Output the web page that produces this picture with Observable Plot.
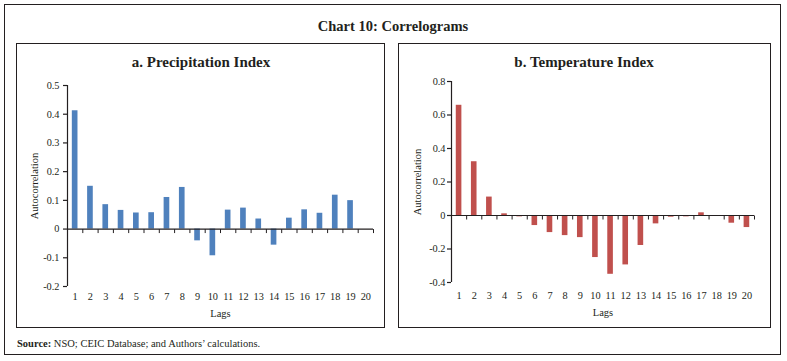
<!DOCTYPE html>
<html>
<head>
<meta charset="utf-8">
<script src="https://cdn.jsdelivr.net/npm/d3@7"></script>
<script src="https://cdn.jsdelivr.net/npm/@observablehq/plot@0.6"></script>
<style>
  body { margin: 0; background: #fff; }
  #root { position: relative; width: 787px; height: 361px; font-family: "Liberation Serif", serif; color: #231f20; overflow: hidden; }
  .box { position: absolute; border: 1.5px solid #231f20; box-sizing: border-box; }
  .t { position: absolute; white-space: nowrap; transform: translate(-50%, -50%); font-weight: bold; line-height: 1; }
  .plot { position: absolute; }
  #src { position: absolute; left: 17px; top: 344px; transform: translateY(-50%); font-size: 10.5px; line-height: 1; white-space: nowrap; }
</style>
</head>
<body>
<div id="root">
  <div class="box" style="left:4px;top:4px;width:777px;height:351px;"></div>
  <div class="t" style="left:393px;top:26px;font-size:14.5px;">Chart 10: Correlograms</div>
  <div class="box" style="left:16px;top:43px;width:369px;height:285px;"></div>
  <div class="box" style="left:397.5px;top:43px;width:373px;height:285px;"></div>
  <div class="t" style="left:201px;top:62px;font-size:15px;">a. Precipitation Index</div>
  <div class="t" style="left:584px;top:62px;font-size:15px;">b. Temperature Index</div>
  <div class="plot" id="pa" style="left:16px;top:68px;"></div>
  <div class="plot" id="pb" style="left:398px;top:68px;"></div>
  <div id="src"><b>Source:</b> NSO; CEIC Database; and Authors’ calculations.</div>
</div>
<script>
const lags = [1,2,3,4,5,6,7,8,9,10,11,12,13,14,15,16,17,18,19,20];
const precipitationValues = [0.412,0.149,0.085,0.065,0.056,0.057,0.110,0.145,-0.041,-0.093,0.066,0.073,0.035,-0.056,0.038,0.067,0.055,0.118,0.099,0];
const temperatureValues = [0.658,0.321,0.110,0.010,-0.008,-0.060,-0.102,-0.120,-0.132,-0.251,-0.351,-0.295,-0.179,-0.050,-0.010,-0.008,0.016,0,-0.046,-0.072];
const precipitationTicks = [-0.2,-0.1,0,0.1,0.2,0.3,0.4,0.5];
const temperatureTicks = [-0.4,-0.2,0,0.2,0.4,0.6,0.8];
const yLabel = "Autocorrelation";
const xLabel = "Lags";

const tickMark = { draw(ctx) { ctx.moveTo(0, 0); ctx.lineTo(0, 4); } };
const fmt = d => String(Math.round(d * 10) / 10);

function panel(values, ticks, color, o) {
  const data = lags.map((lag, i) => ({ lag, value: values[i] }));
  const lo = ticks[0], hi = ticks[ticks.length - 1];
  const x0 = 0.5, x1 = lags.length + 0.5;
  return Plot.plot({
    width: o.width, height: o.height,
    marginTop: o.mt, marginBottom: o.mb, marginLeft: o.ml, marginRight: o.mr,
    style: { fontFamily: "Liberation Serif, serif", fontSize: "10.3px", color: "#231f20", background: "transparent", overflow: "visible" },
    x: { type: "linear", domain: [x0, x1] },
    y: { domain: [lo, hi] },
    marks: [
      Plot.rect(data, { x1: d => d.lag - 0.185, x2: d => d.lag + 0.185, y1: 0, y2: "value", fill: color }),
      Plot.ruleY([0], { x1: x0, x2: x1, stroke: "#231f20", strokeWidth: 1.2 }),
      Plot.ruleX([x0], { y1: lo, y2: hi, stroke: "#231f20", strokeWidth: 1.2 }),
      Plot.dot(lags, { x: d => d + 0.5, y: 0, symbol: tickMark, fill: "none", stroke: "#231f20", strokeWidth: 1 }),
      Plot.axisY({ ticks, tickSize: 4, tickPadding: o.ytp, tickFormat: fmt, label: null, stroke: "#231f20", strokeWidth: 1.2 }),
      Plot.axisY({ ticks: [], label: yLabel, labelAnchor: "center", labelArrow: "none", labelOffset: o.ylo, fontSize: 10.5 }),
      Plot.axisX({ ticks: lags, tickSize: 0, tickPadding: o.xtp, tickFormat: d => String(d), label: null }),
      Plot.axisX({ ticks: [], label: xLabel, labelAnchor: "center", labelArrow: "none", labelOffset: o.xlo, fontSize: 10.5 })
    ]
  });
}

document.getElementById("pa").appendChild(
  panel(precipitationValues, precipitationTicks, "#4F81BD",
    { width: 369, height: 259, mt: 17, mb: 41, ml: 51, mr: 12, ytp: 4, ylo: 37, xtp: 6, xlo: 30 })
);
document.getElementById("pb").appendChild(
  panel(temperatureValues, temperatureTicks, "#C0504D",
    { width: 371, height: 259, mt: 13, mb: 45, ml: 53, mr: 15, ytp: 2, ylo: 38, xtp: 9, xlo: 33 })
);
</script>
</body>
</html>
